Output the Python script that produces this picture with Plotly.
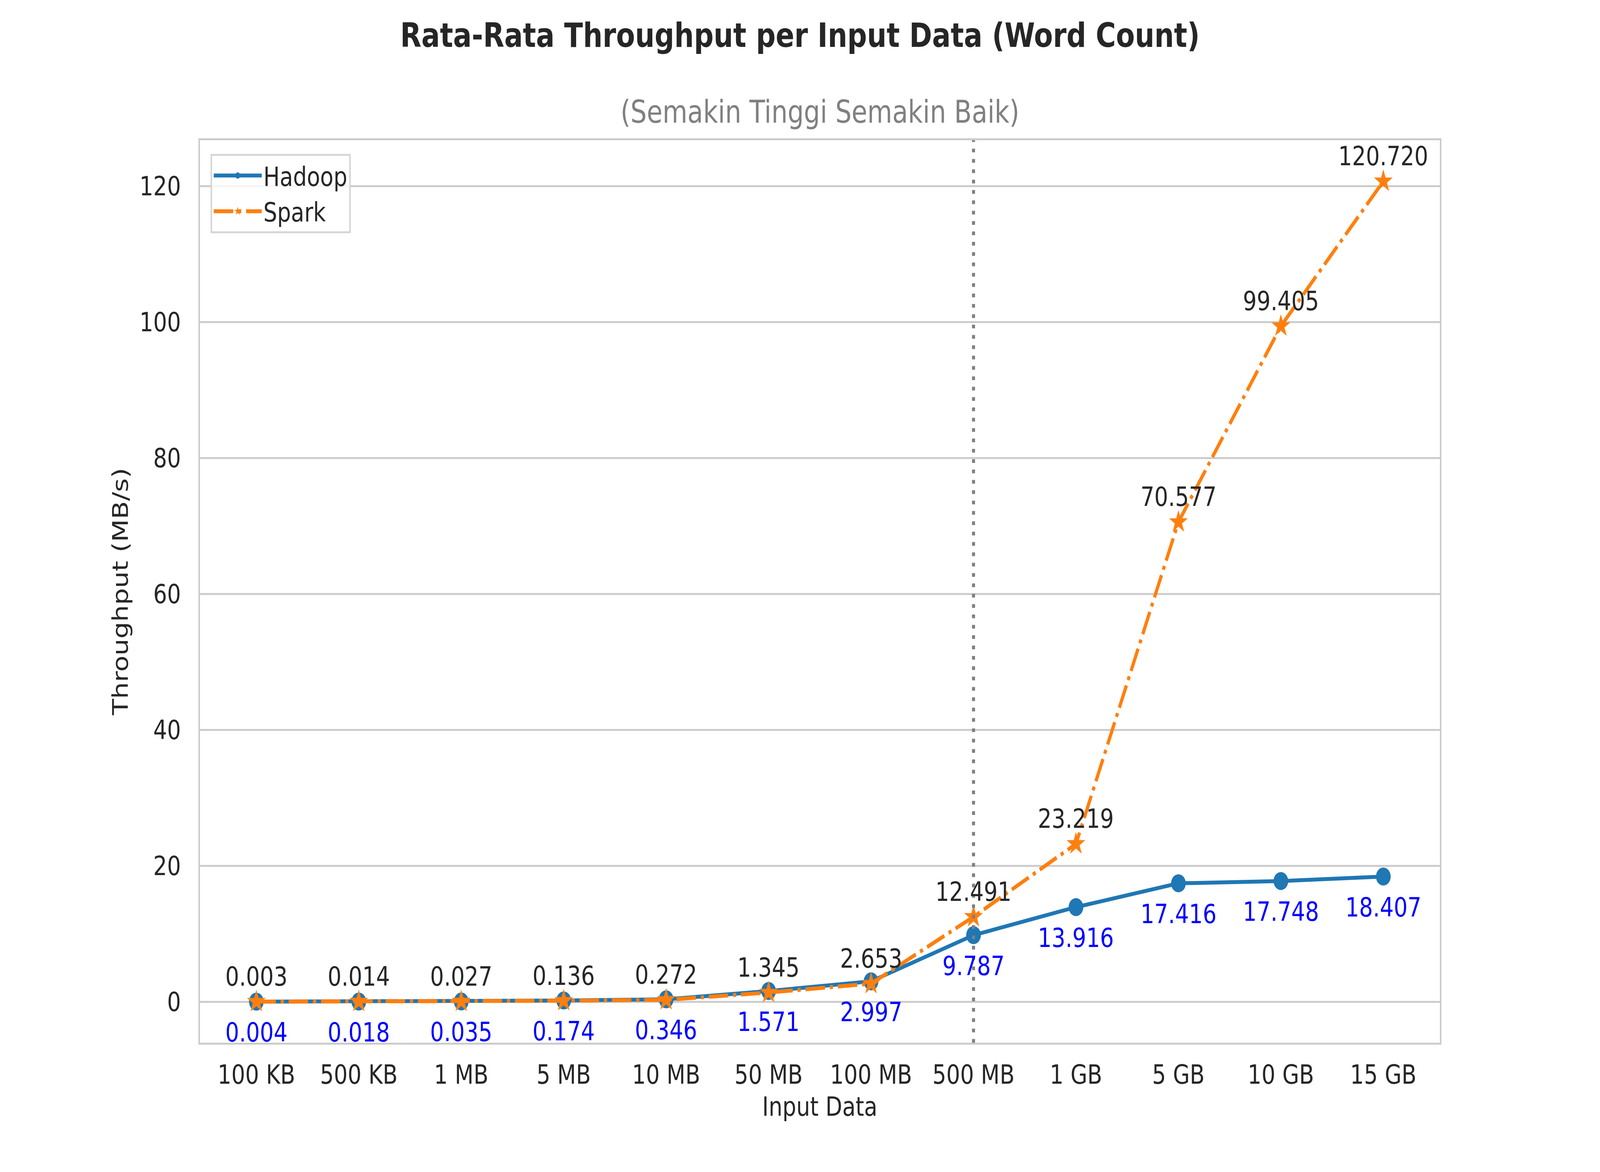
import plotly.graph_objects as go

# input sizes (x categories)
input_data = ["100 KB", "500 KB", "1 MB", "5 MB", "10 MB", "50 MB",
              "100 MB", "500 MB", "1 GB", "5 GB", "10 GB", "15 GB"]

# average throughput in MB/s
hadoop = [0.004, 0.018, 0.035, 0.174, 0.346, 1.571,
          2.997, 9.787, 13.916, 17.416, 17.748, 18.407]
spark = [0.003, 0.014, 0.027, 0.136, 0.272, 1.345,
         2.653, 12.491, 23.219, 70.577, 99.405, 120.720]

split_at = "500 MB"

W, H = 5000, 3000
FONT = "DejaVu Sans"
TXT = "#262626"
BLUE = "#1f77b4"
ORANGE = "#ff7f0e"

fig = go.Figure()

fig.add_trace(go.Scatter(
    x=input_data, y=hadoop, name="Hadoop", mode="lines+markers",
    line=dict(color=BLUE, width=10),
    marker=dict(symbol="circle", size=46, color=BLUE),
))
fig.add_trace(go.Scatter(
    x=input_data, y=spark, name="Spark", mode="lines+markers",
    line=dict(color=ORANGE, width=10, dash="61px,15px,10px,15px"),
    marker=dict(symbol="star", size=44, color=ORANGE),
))

# value labels: spark above (dark), hadoop below (blue)
for cat, v in zip(input_data, spark):
    fig.add_annotation(x=cat, y=v, text=f"{v:.3f}", showarrow=False,
                       yanchor="bottom", yshift=23,
                       font=dict(family=FONT, size=68, color=TXT))
for cat, v in zip(input_data, hadoop):
    fig.add_annotation(x=cat, y=v, text=f"{v:.3f}", showarrow=False,
                       yanchor="top", yshift=-37,
                       font=dict(family=FONT, size=68, color="blue"))

# subtitle under the main title (centred on the axes)
fig.add_annotation(xref="paper", yref="paper", x=0.5, y=1.0312,
                   text="(Semakin Tinggi Semakin Baik)", showarrow=False,
                   yanchor="middle", font=dict(family=FONT, size=80, color="gray"))

fig.add_shape(type="line", xref="x", yref="paper", x0=split_at, x1=split_at,
              y0=0, y1=1, layer="above",
              line=dict(color="gray", width=9.5, dash="9.5px,17px"))

fig.update_layout(
    width=W, height=H,
    margin=dict(l=625, r=501, t=359, b=331),
    paper_bgcolor="white", plot_bgcolor="white",
    font=dict(family=FONT, size=68, color=TXT),
    title=dict(text="<b>Rata-Rata Throughput per Input Data (Word Count)</b>",
               x=0.5, xanchor="center", xref="container",
               y=1 - 90 / H, yanchor="middle", yref="container",
               font=dict(family=FONT, size=86, color=TXT)),
    legend=dict(x=0.0085, y=0.985, xanchor="left", yanchor="top",
                bgcolor="rgba(255,255,255,0.8)", bordercolor="#d6d6d6",
                borderwidth=5, font=dict(family=FONT, size=68, color=TXT),
                itemwidth=150, tracegroupgap=0),
    showlegend=True,
)

fig.update_xaxes(
    type="category", range=[-0.55, 11.55],
    showgrid=False, showline=True, linecolor="#cccccc", linewidth=5, mirror=True,
    ticks="", ticklabelstandoff=18,
    tickfont=dict(family=FONT, size=68, color=TXT),
    title=dict(text="Input Data", standoff=21,
               font=dict(family=FONT, size=68, color=TXT)),
)
fig.update_yaxes(
    range=[-6.033, 126.756], tickvals=[0, 20, 40, 60, 80, 100, 120],
    showgrid=True, gridcolor="#cccccc", gridwidth=4.5, zeroline=False,
    showline=True, linecolor="#cccccc", linewidth=5, mirror=True,
    ticks="", ticklabelstandoff=41,
    tickfont=dict(family=FONT, size=68, color=TXT),
    title=dict(text="Throughput (MB/s)", standoff=15,
               font=dict(family=FONT, size=68, color=TXT)),
)

# fit the fixed-size figure into whatever viewport the page gets
fit_js = """
var gd = document.getElementById('{plot_id}');
document.body.style.margin = '0';
document.body.style.overflow = 'hidden';
var sx = window.innerWidth / %d, sy = window.innerHeight / %d;
gd.style.transformOrigin = '0 0';
gd.style.transform = 'scale(' + sx + ',' + sy + ')';
""" % (W, H)

fig.write_html("out.html", post_script=fit_js,
               config={"displayModeBar": False})
